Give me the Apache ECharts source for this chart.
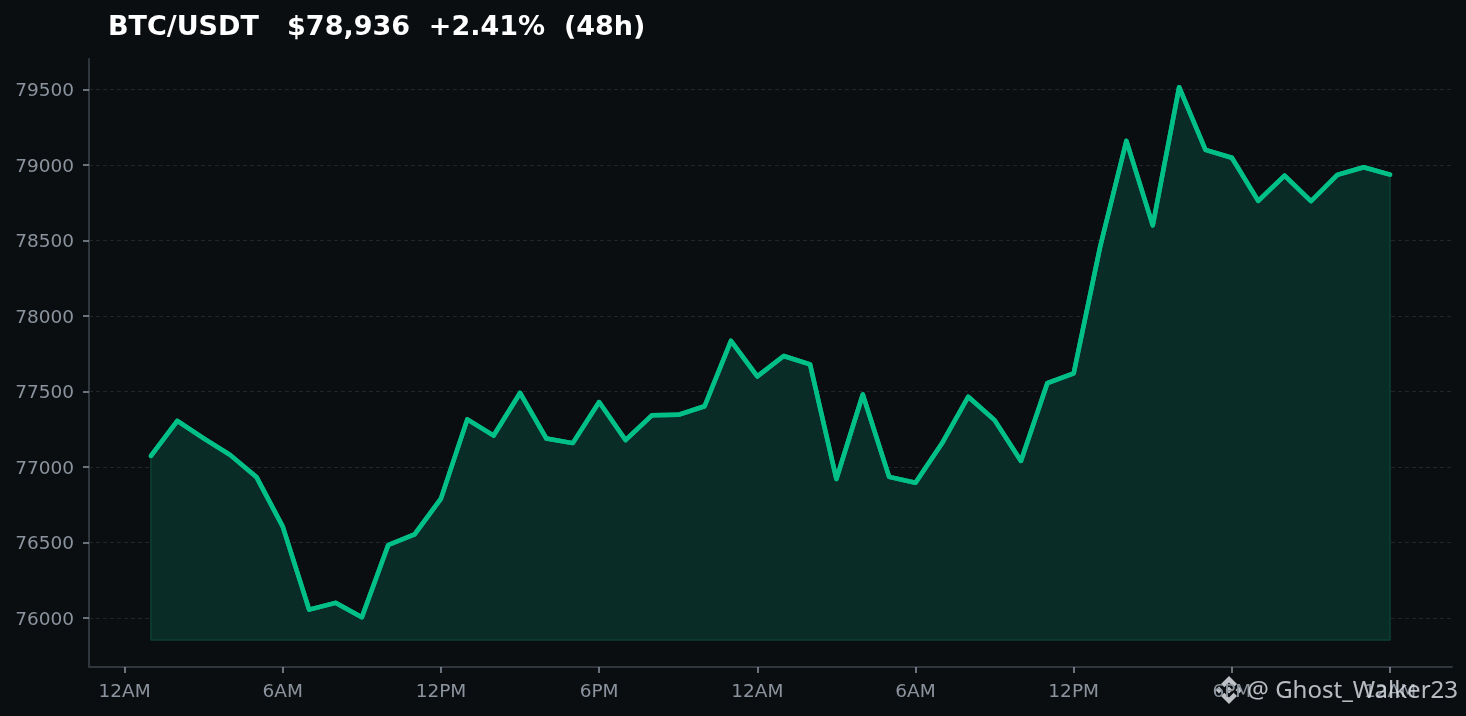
<!DOCTYPE html>
<html><head><meta charset="utf-8">
<style>html,body{margin:0;padding:0;background:#0b0e11}#c{width:1466px;height:716px}</style>
<script src="https://cdn.jsdelivr.net/npm/echarts@6/dist/echarts.min.js"></script>
</head><body><div id="c"></div>
<script>
const titleText = 'BTC/USDT   $78,936  +2.41%  (48h)';
const watermark = '@ Ghost_Walker23';
const hours = [1,2,3,4,5,6,7,8,9,10,11,12,13,14,15,16,17,18,19,20,21,22,23,24,25,26,27,28,29,30,31,32,33,34,35,36,37,38,39,40,41,42,43,44,45,46,47,48];
const prices = [77073,77305,77190,77080,76934,76605,76055,76100,76005,76483,76553,76790,77315,77208,77490,77188,77158,77430,77178,77342,77345,77402,77835,77600,77735,77680,76920,77480,76934,76895,77155,77465,77310,77040,77555,77620,78455,79160,78600,79515,79100,79048,78762,78930,78760,78935,78985,78936];
const xTickValues = [0,6,12,18,24,30,36,42,48];
const xTickLabels = ['12AM','6AM','12PM','6PM','12AM','6AM','12PM','6PM','12AM'];
const yTickValues = [76000,76500,77000,77500,78000,78500,79000,79500];
const baseline = 75854;

const FONT = 'DejaVu Sans';
const chart = echarts.init(document.getElementById('c'), null, {renderer:'canvas'});
const line = hours.map((h,i)=>[h,prices[i]]);
const n = hours.length-1;
const ink = 'rgba(222,226,230,0.85)';
chart.setOption({
  animation:false,
  backgroundColor:'#0b0e11',
  title:{text:titleText,left:108,top:14,padding:0,textStyle:{color:'#ffffff',fontFamily:FONT,fontWeight:'bold',fontSize:27}},
  grid:{left:89,right:14,top:59,bottom:49},
  xAxis:{type:'value',min:-1.35,max:50.35,
    axisLine:{onZero:false,lineStyle:{color:'#30363d',width:2}},
    axisTick:{show:true,length:6,customValues:xTickValues,lineStyle:{color:'#8b949e',width:1.5}},
    axisLabel:{customValues:xTickValues,margin:16,color:'#8b949e',fontFamily:FONT,fontSize:18.5,
      formatter:v=>xTickLabels[xTickValues.indexOf(v)]||''},
    splitLine:{show:false}},
  yAxis:{type:'value',min:75675,max:79702,
    axisLine:{show:true,onZero:false,lineStyle:{color:'#30363d',width:2}},
    axisTick:{show:true,length:6,customValues:yTickValues,lineStyle:{color:'#8b949e',width:1.5}},
    axisLabel:{customValues:yTickValues,margin:15,verticalAlign:'top',lineHeight:4,color:'#8b949e',fontFamily:FONT,fontSize:18.5,formatter:v=>String(v)},
    splitLine:{show:true,lineStyle:{color:'#21262d',width:1,type:[4,3]}}},
  series:[
    {type:'line',data:line,showSymbol:false,z:5,
      lineStyle:{color:'#00c087',width:4.5,join:'round',cap:'round'},
      areaStyle:{origin:baseline,color:'#0a2c26',opacity:1}},
    {type:'line',data:[[hours[0],prices[0]],[hours[0],baseline],[hours[n],baseline],[hours[n],prices[n]]],
      showSymbol:false,z:6,silent:true,lineStyle:{color:'#0c4033',width:1.5}},
    {type:'line',data:line,showSymbol:false,z:7,silent:true,
      lineStyle:{color:'#00c087',width:4.5,join:'round',cap:'round'}}
  ],
  graphic:[
    {type:'text',z:100,style:{x:1458,y:691,text:watermark,align:'right',verticalAlign:'middle',fill:'rgba(222,226,230,0.82)',font:'24px "Noto Sans"'}},
    {type:'group',x:1229,y:690,z:100,children:[
      {type:'polygon',shape:{points:[[0,-14],[8,-6],[4.7,-2.7],[0,-7.4],[-4.7,-2.7],[-8,-6]]},style:{fill:ink}},
      {type:'polygon',shape:{points:[[0,14],[8,6],[4.7,2.7],[0,7.4],[-4.7,2.7],[-8,6]]},style:{fill:ink}},
      {type:'polygon',shape:{points:[[0,-3.4],[3.4,0],[0,3.4],[-3.4,0]]},style:{fill:ink}},
      {type:'polygon',shape:{points:[[-10,-3.4],[-6.6,0],[-10,3.4],[-13.4,0]]},style:{fill:ink}},
      {type:'polygon',shape:{points:[[10,-3.4],[13.4,0],[10,3.4],[6.6,0]]},style:{fill:ink}}
    ]}
  ]
});
</script></body></html>
